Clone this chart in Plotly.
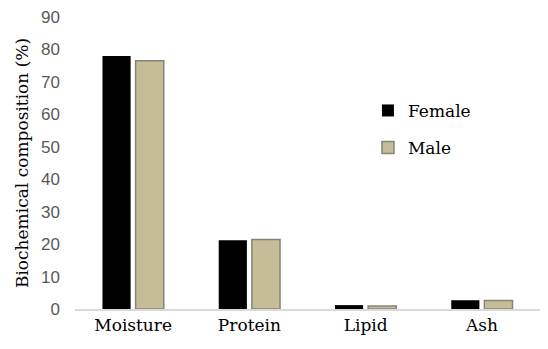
import plotly.graph_objects as go

categories = ["Moisture", "Protein", "Lipid", "Ash"]
female = [78.0, 21.2, 1.2, 2.7]
male = [76.5, 21.4, 0.9, 2.6]
y_ticks = [0, 10, 20, 30, 40, 50, 60, 70, 80, 90]

serif = "DejaVu Serif"

fig = go.Figure()
fig.add_trace(go.Bar(
    x=categories, y=female, name="Female", legendgroup="f",
    marker=dict(color="#000000", line=dict(width=0)),
))
fig.add_trace(go.Bar(
    x=categories, y=male, name="Male", legendgroup="m",
    marker=dict(color="#c4bd97", line=dict(color="#858578", width=1.5)),
))

fig.update_layout(
    width=548, height=349,
    margin=dict(l=75, r=8, t=13, b=40),
    paper_bgcolor="white", plot_bgcolor="white",
    barmode="group", bargap=0.43, bargroupgap=0.15,
    showlegend=True,
    legend=dict(
        x=0.63, y=0.74, xanchor="left", yanchor="top",
        font=dict(family=serif, size=17, color="#000000"),
        tracegroupgap=12, bgcolor="rgba(0,0,0,0)",
    ),
    xaxis=dict(
        showline=True, linecolor="#d9d9d9", linewidth=1.5,
        ticks="", tickfont=dict(family=serif, size=17, color="#000000"),
        showgrid=False,
    ),
    yaxis=dict(
        range=[0, 90], tickvals=y_ticks, showgrid=False, zeroline=False,
        showline=False, ticks="", ticklabelstandoff=14,
        tickfont=dict(family="Liberation Sans", size=17, color="#595959"),
        title=dict(text="Biochemical composition (%)",
                   font=dict(family=serif, size=17, color="#000000"), standoff=8),
    ),
)

fig.write_html("out.html")
